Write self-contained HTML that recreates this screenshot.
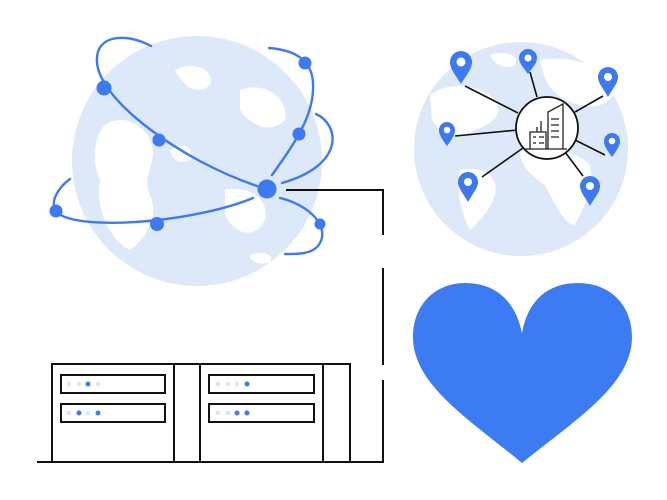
<!DOCTYPE html>
<html><head><style>html,body{margin:0;padding:0;background:#fff;width:667px;height:500px;overflow:hidden}</style></head>
<body>
<svg width="667" height="500" viewBox="0 0 667 500" xmlns="http://www.w3.org/2000/svg">
<!-- left globe -->
<circle cx="197" cy="161" r="125" fill="#dde8f8"/>
<g fill="#fff">
<path d="M105,125 C120,115 140,120 150,140 C160,160 140,175 150,195 C160,215 145,240 130,250 C110,240 95,210 100,180 C90,160 95,135 105,125Z"/>
<path d="M175,70 C195,60 215,70 210,85 C200,95 185,90 175,70Z"/>
<path d="M240,90 C265,80 290,100 285,120 C270,135 250,125 240,110 Z"/>
<path d="M225,190 C250,185 270,200 265,220 C255,240 235,235 225,215Z"/>
<path d="M170,150 C185,140 195,150 190,160 C180,165 172,160 170,150Z"/>
<path d="M250,255 C265,250 275,255 270,262 C260,266 250,262 250,255Z"/>
</g>
<!-- right globe -->
<circle cx="521" cy="149" r="107" fill="#dde8f8"/>
<g fill="#fff">
<path d="M430,95 C450,80 480,85 495,100 C505,115 490,125 475,130 C460,140 440,135 432,120Z"/>
<path d="M460,170 C480,165 500,175 495,195 C488,215 475,225 470,230 C462,215 455,190 460,170Z"/>
<path d="M520,150 C545,145 575,150 590,165 C595,185 585,205 575,225 C565,225 555,205 545,185 C530,175 520,165 520,150Z"/>
<path d="M540,60 C570,55 600,65 615,80 C620,100 600,110 580,105 C560,100 545,90 540,60Z"/>
<path d="M490,55 C505,50 520,55 515,65 C505,70 495,65 490,55Z"/>
</g>
<!-- spokes -->
<g stroke="#111" stroke-width="1.6">
<line x1="465" y1="86" x2="518" y2="113"/>
<line x1="530" y1="72" x2="537" y2="97"/>
<line x1="603" y1="96" x2="575" y2="112"/>
<line x1="455" y1="136" x2="518" y2="130"/>
<line x1="605" y1="155" x2="575" y2="140"/>
<line x1="482" y1="177" x2="523" y2="148"/>
<line x1="583" y1="176" x2="565" y2="152"/>
</g>
<circle cx="547" cy="128" r="31" fill="#fff" stroke="#111" stroke-width="1.8"/>
<g stroke="#222" stroke-width="1.3" fill="none">
<path d="M548,149 V112 L563,104 V149"/>
<path d="M530,149 V132 H546 V149"/>
<path d="M541,132 V121 M537,132 V127"/>
<path d="M551,119 h8 M551,125 h8 M551,131 h8 M551,137 h8"/>
<path d="M533,137 h3 M533,143 h3 M539,137 h5 M539,143 h5"/>
<path d="M525,149 H567"/>
</g>
<!-- pins -->
<g fill="#3f79f0">
<g transform="translate(461,62)"><path d="M0,22 C-6,12 -11,7 -11,0 A11,11 0 0 1 11,0 C11,7 6,12 0,22Z"/><circle r="4.5" fill="#fff"/></g>
<g transform="translate(528,58)"><path d="M0,16 C-5,9 -9,5 -9,0 A9,9 0 0 1 9,0 C9,5 5,9 0,16Z"/><circle r="3.5" fill="#fff"/></g>
<g transform="translate(608,77)"><path d="M0,20 C-5,11 -10,6 -10,0 A10,10 0 0 1 10,0 C10,6 5,11 0,20Z"/><circle r="4" fill="#fff"/></g>
<g transform="translate(447,130)"><path d="M0,16 C-5,9 -8,5 -8,0 A8,8 0 0 1 8,0 C8,5 5,9 0,16Z"/><circle r="3.3" fill="#fff"/></g>
<g transform="translate(612,141)"><path d="M0,16 C-5,9 -8,5 -8,0 A8,8 0 0 1 8,0 C8,5 5,9 0,16Z"/><circle r="3.3" fill="#fff"/></g>
<g transform="translate(468,182)"><path d="M0,20 C-5,11 -10,6 -10,0 A10,10 0 0 1 10,0 C10,6 5,11 0,20Z"/><circle r="4" fill="#fff"/></g>
<g transform="translate(590,186)"><path d="M0,20 C-5,11 -10,6 -10,0 A10,10 0 0 1 10,0 C10,6 5,11 0,20Z"/><circle r="4" fill="#fff"/></g>
</g>
<!-- orbits -->
<g stroke="#3f79f0" stroke-width="2.4" fill="none" stroke-linecap="round">
<path d="M151,46 C125,32 95,35 97,62 C99,100 180,160 257,186"/>
<path d="M280,198 C310,205 332,228 318,246 C310,255 295,254 285,254"/>
<path d="M269,48 C295,50 315,60 313,90 C312,120 290,150 272,175"/>
<path d="M316,114 C340,125 345,165 282,183"/>
<path d="M70,179 C55,190 45,210 65,217 C100,230 200,220 253,198"/>
</g>
<g fill="#3f79f0">
<circle cx="104" cy="88" r="7.5"/><circle cx="159" cy="140" r="6.5"/><circle cx="305" cy="63" r="6.5"/>
<circle cx="299" cy="134" r="6.5"/><circle cx="267" cy="189" r="9.5"/><circle cx="56" cy="211" r="6.5"/>
<circle cx="157" cy="224" r="7"/><circle cx="320" cy="224" r="5.5"/>
</g>
<!-- connector -->
<g stroke="#111" stroke-width="2" fill="none">
<path d="M286,190 H383 V235"/>
<path d="M383,268 V365"/>
<path d="M383,380 V463"/>
<path d="M37,462 H384"/>
<rect x="52" y="364" width="298" height="98"/>
<line x1="174" y1="364" x2="174" y2="462"/>
<line x1="200" y1="364" x2="200" y2="462"/>
<line x1="323" y1="364" x2="323" y2="462"/>
<rect x="61" y="375" width="104" height="18"/>
<rect x="61" y="404" width="104" height="18"/>
<rect x="209" y="375" width="105" height="18"/>
<rect x="209" y="404" width="105" height="18"/>
</g>
<g>
<rect x="67" y="382" width="4" height="4" fill="#dde6f8"/><rect x="77" y="382" width="4" height="4" fill="#dde6f8"/><circle cx="88" cy="384" r="2.5" fill="#3f79f0"/><rect x="96" y="382" width="4" height="4" fill="#dde6f8"/>
<rect x="67" y="411" width="4" height="4" fill="#dde6f8"/><circle cx="79" cy="413" r="2.5" fill="#3f79f0"/><rect x="86" y="411" width="4" height="4" fill="#dde6f8"/><circle cx="98" cy="413" r="2.5" fill="#3f79f0"/>
<rect x="216" y="382" width="4" height="4" fill="#dde6f8"/><rect x="226" y="382" width="4" height="4" fill="#dde6f8"/><rect x="235" y="382" width="4" height="4" fill="#dde6f8"/><circle cx="247" cy="384" r="2.5" fill="#3f79f0"/>
<rect x="216" y="411" width="4" height="4" fill="#dde6f8"/><rect x="226" y="411" width="4" height="4" fill="#dde6f8"/><circle cx="237" cy="413" r="2.5" fill="#3f79f0"/><circle cx="247" cy="413" r="2.5" fill="#3f79f0"/>
</g>
<!-- heart -->
<path d="M522,333 C515,300 495,283 465,283 C435,283 413,305 413,337 C413,385 470,420 522,463 C575,420 632,385 632,337 C632,305 610,283 578,283 C548,283 528,300 522,333Z" fill="#3d7bf2"/>
</svg>
</body></html>
